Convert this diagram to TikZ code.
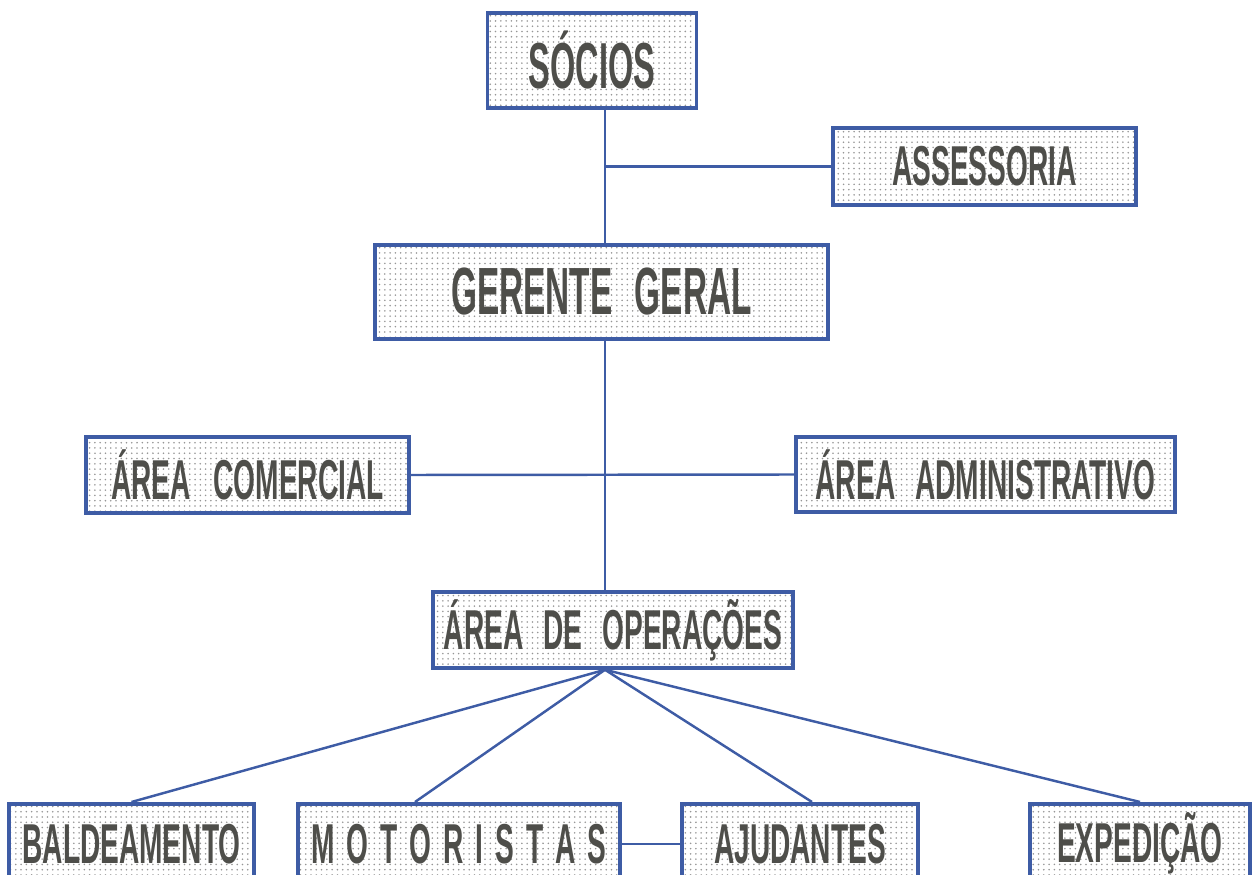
\documentclass[tikz,border=0pt]{standalone}
\usepackage{fontspec}
\usepackage{tikz}
\usepackage{xcolor}
\usetikzlibrary{patterns}
\newfontfamily\orgfont{Liberation Sans}[FakeStretch=0.5, UprightFont={* Bold}]
\definecolor{orgblue}{RGB}{62,92,165}
\definecolor{orgtext}{RGB}{78,78,74}
\definecolor{orgdots}{RGB}{150,150,150}

\begin{document}
\begin{tikzpicture}[
    orgbox/.style = {draw=orgblue, line width=2pt, pattern=dots, pattern color=orgdots,
                     text=orgtext, inner sep=0pt, align=center,
                     font=\orgfont\fontsize{32}{33}\selectfont},
    orgline/.style = {orgblue, line width=1.4pt}
  ]
  \useasboundingbox (0,0) rectangle (25.08,-17.5);
  \clip (0,0) rectangle (25.08,-17.5);
  \coordinate (spine) at (12.1,0);
  % top of the chart
  \node[orgbox, minimum width=4.18cm, minimum height=1.9cm,
        font=\orgfont\fontsize{37}{38}\selectfont] (socios) at (11.84,-1.21) {SÓCIOS};
  \node[orgbox, minimum width=6.06cm, minimum height=1.54cm] (assessoria) at (19.69,-3.33) {ASSESSORIA};
  \node[orgbox, minimum width=9.06cm, minimum height=1.88cm,
        font=\orgfont\fontsize{38}{39}\selectfont] (gerente) at (12.03,-5.84) {GERENTE\hspace{0.45cm}GERAL};
  % areas
  \node[orgbox, minimum width=6.46cm, minimum height=1.52cm] (comercial) at (4.95,-9.5) {ÁREA\hspace{0.45cm}COMERCIAL};
  \node[orgbox, minimum width=7.58cm, minimum height=1.5cm] (administrativo) at (19.71,-9.49) {ÁREA\hspace{0.4cm}ADMINISTRATIVO};
  \node[orgbox, minimum width=7.2cm, minimum height=1.52cm] (operacoes) at (12.26,-12.6) {ÁREA\hspace{0.4cm}DE\hspace{0.4cm}OPERAÇÕES};
  % bottom row
  \node[orgbox, anchor=north, minimum width=4.9cm, minimum height=1.6cm] (baldeamento) at (2.63,-16.04) {BALDEAMENTO};
  \node[orgbox, anchor=north, minimum width=6.44cm, minimum height=1.6cm] (motoristas) at (9.18,-16.04)
       {M\hspace{0.24cm}O\hspace{0.24cm}T\hspace{0.24cm}O\hspace{0.24cm}R\hspace{0.24cm}I\hspace{0.24cm}S\hspace{0.24cm}T\hspace{0.24cm}A\hspace{0.24cm}S};
  \node[orgbox, anchor=north, minimum width=4.72cm, minimum height=1.6cm] (ajudantes) at (16.0,-16.04) {AJUDANTES};
  \node[orgbox, anchor=north, minimum width=4.4cm, minimum height=1.6cm] (expedicao) at (22.8,-16.04) {EXPEDIÇÃO};

  \draw[orgline] (socios.south -| spine) -- (gerente.north -| spine);
  \draw[orgline] (spine |- assessoria.west) -- (assessoria.west);
  \draw[orgline] (gerente.south -| spine) -- (operacoes.north -| spine);
  \draw[orgline] (comercial.east) -- (administrativo.west);
  \draw[orgline] (operacoes.south -| spine) -- (baldeamento.north);
  \draw[orgline] (operacoes.south -| spine) -- ([xshift=-0.88cm]motoristas.north);
  \draw[orgline] (operacoes.south -| spine) -- ([xshift=0.24cm]ajudantes.north);
  \draw[orgline] (operacoes.south -| spine) -- (expedicao.north);
  \draw[orgline] (motoristas.east) -- (ajudantes.west);
\end{tikzpicture}
\end{document}
